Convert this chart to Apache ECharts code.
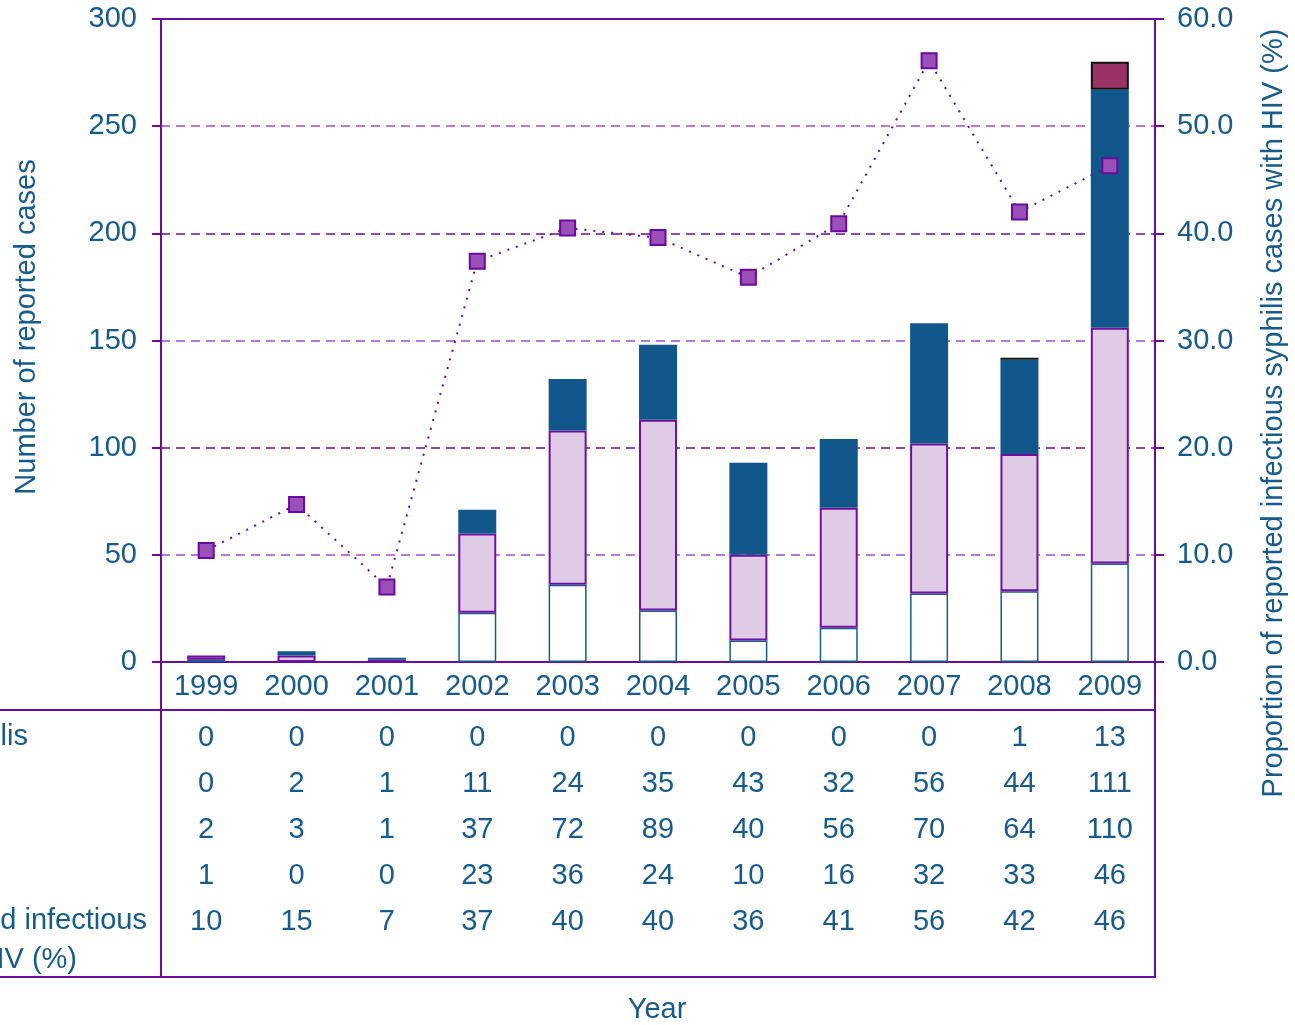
<!DOCTYPE html>
<html>
<head>
<meta charset="utf-8">
<script src="https://cdn.jsdelivr.net/npm/echarts@6/dist/echarts.min.js"></script>
<style>
  html, body { margin: 0; padding: 0; background: #fff; }
  #chart { width: 1295px; height: 1025px; }
</style>
</head>
<body>
<div id="chart"></div>
<script>
// data
const years = ["1999", "2000", "2001", "2002", "2003", "2004", "2005", "2006", "2007", "2008", "2009"];
const rowTop = [0, 0, 0, 0, 0, 0, 0, 0, 0, 1, 13];
const rowBlue = [0, 2, 1, 11, 24, 35, 43, 32, 56, 44, 111];
const rowPurple = [2, 3, 1, 37, 72, 89, 40, 56, 70, 64, 110];
const rowWhite = [1, 0, 0, 23, 36, 24, 10, 16, 32, 33, 46];
const rowPct = [10, 15, 7, 37, 40, 40, 36, 41, 56, 42, 46];
const pctHiv = [10.4, 14.7, 7.0, 37.4, 40.5, 39.6, 35.9, 40.9, 56.1, 42.0, 46.3];
const leftTicks = [0, 50, 100, 150, 200, 250, 300];

const textColor = "#175a8c";
const purple = "#6c0c9c";
const font = "Liberation Sans, Arial, sans-serif";
const fontSize = 29;

const chart = echarts.init(document.getElementById("chart"));

// zero segments would still draw their border, so leave them empty
const noZero = (arr) => arr.map((v) => (v === 0 ? "-" : v));

// table rows under the x axis, one hidden category axis per row
const tableRows = [rowTop, rowBlue, rowPurple, rowWhite, rowPct];
const rowOffsets = [51, 97, 143, 189, 235];
const tableAxes = tableRows.map((row, k) => ({
  type: "category",
  data: years,
  position: "bottom",
  offset: rowOffsets[k],
  axisLine: { show: false },
  axisTick: { show: false },
  splitLine: { show: false },
  axisLabel: {
    interval: 0,
    margin: 10,
    color: textColor,
    fontSize: fontSize,
    fontFamily: font,
    formatter: (v, i) => String(row[i]),
  },
}));

const txt = (text, x, y, align, extra) =>
  Object.assign({
    type: "text",
    x: x,
    y: y,
    silent: true,
    style: {
      text: text,
      fill: textColor,
      font: fontSize + "px " + font,
      align: align,
      verticalAlign: "middle",
    },
  }, extra || {});

const line = (x1, y1, x2, y2) => ({
  type: "line",
  silent: true,
  shape: { x1: x1, y1: y1, x2: x2, y2: y2 },
  style: { stroke: purple, lineWidth: 2 },
});

const option = {
  animation: false,
  backgroundColor: "#fff",
  grid: {
    left: 161,
    right: 140,
    top: 19,
    bottom: 363,
    show: true,
    borderColor: purple,
    borderWidth: 2,
  },
  xAxis: [
    {
      type: "category",
      data: years,
      position: "bottom",
      axisLine: { lineStyle: { color: purple, width: 2 } },
      axisTick: { show: false },
      axisLabel: { interval: 0, margin: 10, color: textColor, fontSize: fontSize, fontFamily: font },
    },
  ].concat(tableAxes),
  yAxis: [
    {
      type: "value",
      min: leftTicks[0],
      max: leftTicks[leftTicks.length - 1],
      interval: 50,
      axisLine: { show: true, lineStyle: { color: purple, width: 2 } },
      axisTick: { show: true, length: 9, lineStyle: { color: purple, width: 2 } },
      axisLabel: { margin: 24, color: textColor, fontSize: fontSize, fontFamily: font },
      splitLine: {
        show: true,
        lineStyle: { color: ["#6c0c9c", "#a04fcc"], type: [9, 6], width: 1.5 },
      },
    },
    {
      type: "value",
      min: 0,
      max: 60,
      interval: 10,
      position: "right",
      axisLine: { show: true, lineStyle: { color: purple, width: 2 } },
      axisTick: { show: true, length: 9, lineStyle: { color: purple, width: 2 } },
      axisLabel: {
        margin: 22,
        color: textColor,
        fontSize: fontSize,
        fontFamily: font,
        formatter: (v) => v.toFixed(1),
      },
      splitLine: { show: false },
    },
  ],
  series: [
    {
      type: "bar",
      stack: "cases",
      barWidth: 38,
      data: noZero(rowWhite),
      itemStyle: { color: "#ffffff", borderColor: "#1a5a8a", borderWidth: 1.5 },
    },
    {
      type: "bar",
      stack: "cases",
      barWidth: 38,
      data: noZero(rowPurple),
      itemStyle: { color: "#e0cbe6", borderColor: "#7010a0", borderWidth: 2 },
    },
    {
      type: "bar",
      stack: "cases",
      barWidth: 38,
      data: noZero(rowBlue),
      itemStyle: { color: "#12578b" },
    },
    {
      type: "bar",
      stack: "cases",
      barWidth: 38,
      data: noZero(rowTop),
      itemStyle: { color: "#993366", borderColor: "#111", borderWidth: 2 },
    },
    {
      type: "line",
      yAxisIndex: 1,
      data: pctHiv,
      z: 5,
      symbol: "rect",
      symbolSize: 15,
      itemStyle: { color: "#9a50b8", borderColor: "#6a0a9a", borderWidth: 2 },
      lineStyle: { color: "#6a0a9a", width: 2, type: [2, 7] },
    },
  ],
  graphic: [
    // data table frame
    line(0, 710, 1156, 710),
    line(0, 977, 1156, 977),
    line(161, 662, 161, 977),
    line(1155, 662, 1155, 977),
    // row labels (cut at the left edge in the original)
    txt("Infectious syphilis", 28, 737, "right"),
    txt("Proportion of reported infectious", 147, 921, "right"),
    txt("syphilis cases with HIV (%)", 77, 960, "right"),
    // axis names
    txt("Number of reported cases", 27, 327, "center", { rotation: Math.PI / 2 }),
    txt("Proportion of reported infectious syphilis cases with HIV (%)", 1274, 413, "center", { rotation: Math.PI / 2 }),
    txt("Year", 657, 1010, "center"),
  ],
};

chart.setOption(option);
</script>
</body>
</html>
